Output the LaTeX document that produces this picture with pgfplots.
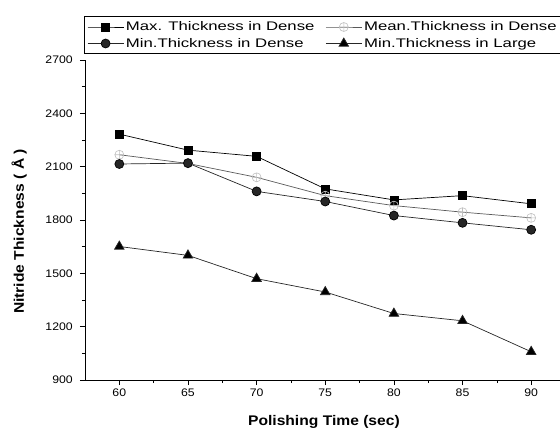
\documentclass[border=0pt]{standalone}
\usepackage{graphicx}
\usepackage{pgfplots}
\pgfplotsset{compat=1.18}
\usepackage{fontspec}
\setmainfont{Liberation Sans}[FakeStretch=1.12]
\newcommand{\legtxt}[1]{\scalebox{1.2}[1]{#1}}
\begin{document}
\begin{tikzpicture}
\begin{axis}[
  scale only axis,
  width=475bp, height=320bp,
  xmin=57.5, xmax=92.1,
  ymin=900, ymax=2700,
  axis x line*=bottom, axis y line*=left,
  axis line style={line width=0.8pt},
  xtick={60,65,...,90},
  ytick={900,1200,...,2700},
  minor x tick num=1, minor y tick num=1,
  tick align=outside,
  major tick length=5bp, minor tick length=3bp,
  tick style={line width=0.7pt,black},
  /pgf/number format/assume math mode=true,
  /pgf/number format/set thousands separator={},
  ticklabel style={font=\fontsize{11}{13}\selectfont},
  xticklabel style={inner sep=0pt, yshift=-4bp},
  yticklabel style={inner sep=0pt, xshift=-7bp},
  xlabel={\bfseries Polishing Time (sec)},
  ylabel={\bfseries Nitride Thickness ( Å )},
  xlabel style={font=\fontsize{14}{16}\selectfont, at={(axis description cs:0.503,0)}, anchor=base, yshift=-45bp, inner sep=0pt},
  ylabel style={font=\fontsize{14}{16}\selectfont, at={(axis description cs:0,0.464)}, anchor=base, yshift=61bp, inner sep=0pt},
  legend columns=2,
  legend style={at={(rel axis cs:0,1)}, anchor=south west, xshift=-1bp, yshift=6bp,
    draw=black, line width=0.5pt, font=\fontsize{12.5}{14}\selectfont,
    inner xsep=3bp, inner ysep=3bp, row sep=2bp,
    /tikz/every even column/.append style={column sep=9bp}},
  legend cell align=left,
  legend image code/.code={\draw[#1, mark repeat=2, mark phase=2] plot coordinates {(0bp,0bp)(18bp,0bp)(36bp,0bp)};},
]
\coordinate (O) at (rel axis cs:0,0);
\addplot[black, line width=0.7pt, mark=square*, mark size=4bp, mark options={solid,fill=black}]
  coordinates {(60,2283)(65,2193)(70,2158)(75,1975)(80,1913)(85,1937)(90,1891)};
\addlegendentry{\legtxt{Max. Thickness in Dense}}
\addplot[gray!70!black, line width=0.7pt, mark=oplus, mark size=4.5bp, mark options={solid,gray!50,line width=0.6pt}]
  coordinates {(60,2167)(65,2118)(70,2040)(75,1937)(80,1881)(85,1844)(90,1812)};
\addlegendentry{\legtxt{Mean.Thickness in Dense}}
\addplot[black!85, line width=0.7pt, mark=*, mark size=4.5bp, mark options={solid,fill=black!85,draw=black}]
  coordinates {(60,2115)(65,2120)(70,1961)(75,1904)(80,1825)(85,1784)(90,1745)};
\addlegendentry{\legtxt{Min.Thickness in Dense}}
\addplot[black!85, line width=0.7pt, mark=triangle*, mark size=5.5bp, mark options={solid,fill=black}]
  coordinates {(60,1651)(65,1601)(70,1470)(75,1395)(80,1274)(85,1233)(90,1059)};
\addlegendentry{\legtxt{Min.Thickness in Large}}
\end{axis}
\pgfresetboundingbox
\path[use as bounding box] ([xshift=-85bp,yshift=-50bp]O) rectangle ++(560bp,430bp);
\end{tikzpicture}
\end{document}
